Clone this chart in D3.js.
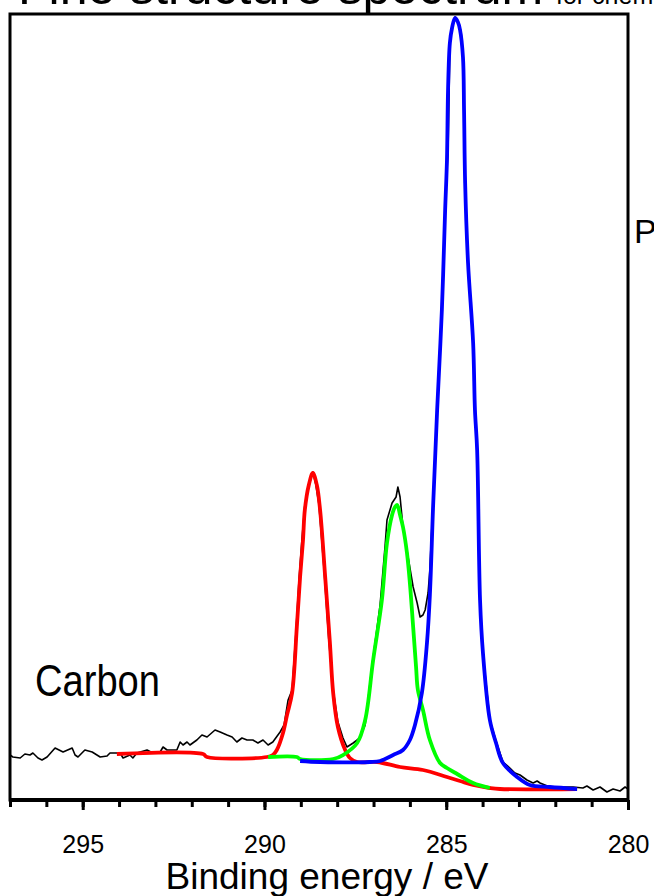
<!DOCTYPE html>
<html>
<head>
<meta charset="utf-8">
<script src="https://cdn.jsdelivr.net/npm/d3@7"></script>
<style>
  body { margin: 0; background: #fff; }
  svg { display: block; font-family: "Liberation Sans", Arial, sans-serif; }
</style>
</head>
<body>
<div id="chart"></div>
<script>
// binding energy (eV), intensity (counts)
var measured = [
  [297.00,2250],[296.92,2150],[296.72,2100],[296.59,2300],[296.45,2250],[296.37,2350],[296.23,2100],
  [296.12,2000],[295.98,2150],[295.76,2600],[295.54,2400],[295.29,2600],[295.21,2250],[295.13,2150],
  [294.94,2500],[294.74,2400],[294.52,2150],[294.33,2200],[294.25,2350],[293.97,2350],[293.89,2100],
  [293.70,2250],[293.62,2100],[293.51,2350],[293.23,2500],[293.07,2350],[292.87,2400],[292.79,2650],
  [292.68,2500],[292.41,2500],[292.32,2900],[292.24,2750],[292.13,2900],[292.05,2750],[291.86,3000],
  [291.72,3250],[291.58,3150],[291.36,3500],[291.22,3400],[291.03,3250],[290.89,3150],[290.76,2900],
  [290.62,3100],[290.48,3000],[290.32,3000],[290.18,2850],[290.04,3000],[289.90,2750],[289.77,2900],
  [289.57,3400],[289.46,3750],[289.35,5000],[289.24,5500],[289.13,8500],[289.05,11000],[288.97,13000],
  [288.89,14750],[288.75,15900],[288.67,16400],[288.59,15800],[288.50,14750],[288.36,11500],
  [288.23,8000],[288.11,5500],[287.98,3900],[287.84,3100],[287.73,2650],[287.56,2850],[287.45,3000],
  [287.37,3150],[287.23,3750],[287.04,6750],[286.82,9750],[286.68,12750],[286.63,14000],[286.49,14850],
  [286.38,15150],[286.33,15650],[286.27,15150],[286.19,13650],[286.05,12150],[285.91,10650],
  [285.80,9850],[285.72,9150],[285.64,9250],[285.58,9500],[285.50,10350],[285.45,11500],[285.36,15000],
  [285.25,19750],[285.12,24750],[285.03,29750],[284.95,32500],[284.92,35500],[284.90,37900],
  [284.84,38650],[284.76,39150],[284.68,38950],[284.59,38400],[284.54,37000],[284.51,34500],
  [284.48,30850],[284.40,26850],[284.26,22850],[284.21,19500],[284.15,17500],[284.07,10000],
  [283.99,7350],[283.80,4000],[283.63,2950],[283.44,1900],[283.25,1600],[283.11,1350],[282.97,1250],
  [282.78,1000],[282.61,850],[282.50,950],[282.42,850],[282.15,650],[281.51,650],[281.24,600],
  [281.13,700],[280.96,500],[280.77,650],[280.58,400],[280.41,550],[280.22,450],[280.08,650],[280.00,550]
];

var fitCC = [
  [289.02,1950],[288.47,1900],[287.10,1900],[286.82,1950],[286.46,2250],[286.19,2500],[286.00,3000],
  [285.86,3750],[285.67,5350],[285.53,7850],[285.45,10250],[285.36,14750],[285.25,19500],[285.12,24500],
  [285.03,29500],[284.98,32000],[284.95,35500],[284.90,37850],[284.84,38600],[284.76,39100],
  [284.68,38900],[284.62,38500],[284.54,37150],[284.51,34500],[284.48,30850],[284.40,26850],
  [284.26,22850],[284.21,19500],[284.15,17500],[284.07,10000],[283.99,7350],[283.80,4000],
  [283.63,2850],[283.44,1850],[283.05,1150],[282.70,750],[282.15,650],[281.40,550]
];

var fitCO = [
  [289.90,2150],[289.11,2150],[289.02,2050],[288.11,2050],[287.84,2250],[287.45,2850],[287.23,4000],
  [287.01,7000],[286.77,10000],[286.63,12850],[286.49,14250],[286.41,14650],[286.35,14750],
  [286.27,14250],[286.19,13650],[286.08,12350],[286.00,10850],[285.91,8650],[285.83,6650],
  [285.78,5500],[285.64,4500],[285.45,3000],[285.17,1850],[284.98,1600],[284.70,1300],[284.26,850],
  [283.80,600]
];

var fitCOO = [
  [294.06,2300],[291.69,2300],[291.58,2150],[289.93,2150],[289.77,2250],[289.66,2500],[289.49,3350],
  [289.38,4250],[289.24,5350],[289.11,8650],[289.02,11150],[288.94,13000],[288.89,14500],[288.78,15750],
  [288.67,16350],[288.56,15750],[288.47,14500],[288.33,11150],[288.20,7850],[288.11,5350],
  [287.98,3650],[287.78,2500],[287.65,2100],[287.45,1900],[286.90,1900],[286.27,1650],[285.64,1500],
  [284.98,1150],[284.62,950],[284.26,750],[283.80,600],[283.52,550],[281.40,550]
];

var majorTicks = [295, 290, 285, 280];
var minorTicks = d3.range(280, 298);

drawChart();

function drawChart() {
    var width = 654, height = 896;
    var m = { left: 10, right: 628, top: 14, bottom: 800 };

    var svg = d3.select("#chart").append("svg")
        .attr("width", width)
        .attr("height", height);

    var x = d3.scaleLinear().domain([297, 280]).range([m.left, m.right]);
    var y = d3.scaleLinear().domain([0, 39300]).range([m.bottom, m.top]);

    // clipped title at the top of the page
    svg.append("text")
        .attr("x", 18).attr("y", 4)
        .attr("font-size", 50)
        .text("Fine structure spectrum");
    svg.append("text")
        .attr("x", 556).attr("y", 4)
        .attr("font-size", 25)
        .text("for chemical states");

    // frame
    svg.append("rect")
        .attr("x", m.left).attr("y", m.top)
        .attr("width", m.right - m.left).attr("height", m.bottom - m.top)
        .attr("fill", "none")
        .attr("stroke", "#000")
        .attr("stroke-width", 3);

    var line = d3.line()
        .x(function(d) { return x(d[0]); })
        .y(function(d) { return y(d[1]); });

    svg.append("path")
        .datum(measured)
        .attr("d", line)
        .attr("fill", "none")
        .attr("stroke", "#000")
        .attr("stroke-width", 1.6)
        .attr("stroke-linejoin", "round");

    var fitLine = d3.line()
        .curve(d3.curveCatmullRom.alpha(0.5))
        .x(function(d) { return x(d[0]); })
        .y(function(d) { return y(d[1]); });

    [[fitCOO, "#ff0000"], [fitCO, "#00ff00"], [fitCC, "#0000ff"]].forEach(function(s) {
        svg.append("path")
            .datum(s[0])
            .attr("d", fitLine)
            .attr("fill", "none")
            .attr("stroke", s[1])
            .attr("stroke-width", 3.8)
            .attr("stroke-linejoin", "round");
    });

    // bottom axis: minor + major ticks
    var minorAxis = svg.append("g")
        .attr("transform", "translate(0," + m.bottom + ")")
        .call(d3.axisBottom(x).tickValues(minorTicks).tickSize(7).tickFormat(""));
    minorAxis.select(".domain").remove();
    minorAxis.selectAll("line").attr("stroke-width", 3);

    var majorAxis = svg.append("g")
        .attr("transform", "translate(0," + m.bottom + ")")
        .call(d3.axisBottom(x).tickValues(majorTicks).tickSize(10).tickFormat(d3.format("d")));
    majorAxis.select(".domain").attr("stroke-width", 4).attr("d", "M" + m.left + ",0H" + m.right);
    majorAxis.selectAll("line").attr("stroke-width", 3);
    majorAxis.selectAll("text")
        .attr("y", 53).attr("dy", 0)
        .attr("font-size", 25)
        .attr("font-family", "Liberation Sans, Arial, sans-serif")
        .attr("fill", "#000");

    svg.append("text")
        .attr("x", 327).attr("y", 889)
        .attr("text-anchor", "middle")
        .attr("font-size", 37)
        .text("Binding energy / eV");

    svg.append("text")
        .attr("x", 35).attr("y", 696)
        .attr("font-size", 45)
        .attr("textLength", 125)
        .attr("lengthAdjust", "spacingAndGlyphs")
        .text("Carbon");

    svg.append("text")
        .attr("x", 634).attr("y", 243)
        .attr("font-size", 34)
        .text("P");
}
</script>
</body>
</html>
